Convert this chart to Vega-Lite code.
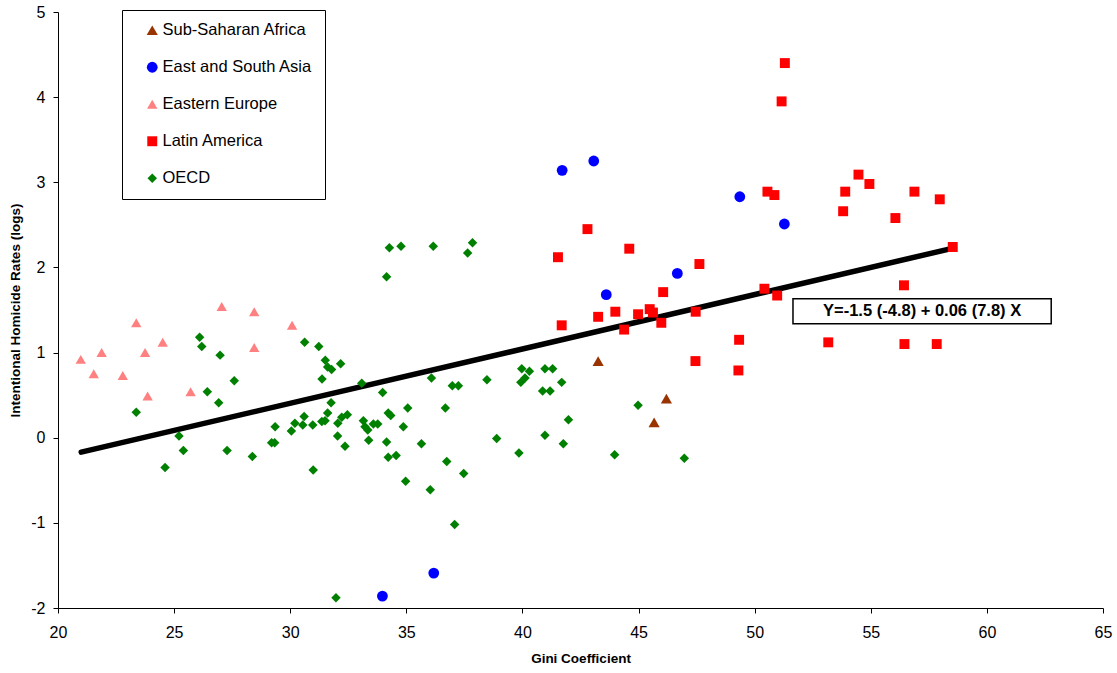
{
  "$schema": "https://vega.github.io/schema/vega-lite/v6.json",
  "width": 1045,
  "height": 596,
  "autosize": {"type": "none"},
  "padding": {"left": 58, "top": 12, "right": 14, "bottom": 65},
  "background": "white",
  "config": {
    "font": "Liberation Sans",
    "view": {"stroke": null},
    "axis": {
      "grid": false,
      "domainColor": "black",
      "tickColor": "black",
      "labelColor": "black",
      "titleColor": "black",
      "labelFont": "Liberation Sans",
      "titleFont": "Liberation Sans",
      "labelFontSize": 16,
      "titleFontSize": 13.5,
      "titleFontWeight": "bold",
      "tickSize": 5,
      "domainWidth": 1,
      "tickWidth": 1,
      "labelFlush": false
    }
  },
  "datasets": {
    "fit": [
      {"gini": 21.0, "homicide": -0.17},
      {"gini": 58.6, "homicide": 2.23}
    ],
    "box": [
      {"gini": 51.65, "gini2": 62.77, "homicide": 1.633, "homicide2": 1.339}
    ],
    "label": [
      {"gini": 57.21, "homicide": 1.486, "text": "Y=-1.5 (-4.8) + 0.06 (7.8) X"}
    ],
    "points": [
      {"gini": 43.26, "homicide": 0.90, "region": "Sub-Saharan Africa"},
      {"gini": 46.20, "homicide": 0.46, "region": "Sub-Saharan Africa"},
      {"gini": 45.67, "homicide": 0.18, "region": "Sub-Saharan Africa"},
      {"gini": 41.71, "homicide": 3.14, "region": "East and South Asia"},
      {"gini": 43.07, "homicide": 3.25, "region": "East and South Asia"},
      {"gini": 49.36, "homicide": 2.83, "region": "East and South Asia"},
      {"gini": 51.28, "homicide": 2.51, "region": "East and South Asia"},
      {"gini": 46.67, "homicide": 1.93, "region": "East and South Asia"},
      {"gini": 43.61, "homicide": 1.68, "region": "East and South Asia"},
      {"gini": 36.18, "homicide": -1.59, "region": "East and South Asia"},
      {"gini": 33.97, "homicide": -1.86, "region": "East and South Asia"},
      {"gini": 20.98, "homicide": 0.92, "region": "Eastern Europe"},
      {"gini": 21.54, "homicide": 0.75, "region": "Eastern Europe"},
      {"gini": 21.88, "homicide": 1.00, "region": "Eastern Europe"},
      {"gini": 22.79, "homicide": 0.73, "region": "Eastern Europe"},
      {"gini": 23.37, "homicide": 1.35, "region": "Eastern Europe"},
      {"gini": 23.75, "homicide": 1.00, "region": "Eastern Europe"},
      {"gini": 23.86, "homicide": 0.49, "region": "Eastern Europe"},
      {"gini": 24.51, "homicide": 1.12, "region": "Eastern Europe"},
      {"gini": 25.71, "homicide": 0.54, "region": "Eastern Europe"},
      {"gini": 27.05, "homicide": 1.54, "region": "Eastern Europe"},
      {"gini": 28.45, "homicide": 1.48, "region": "Eastern Europe"},
      {"gini": 28.45, "homicide": 1.06, "region": "Eastern Europe"},
      {"gini": 30.08, "homicide": 1.32, "region": "Eastern Europe"},
      {"gini": 51.30, "homicide": 4.40, "region": "Latin America"},
      {"gini": 51.16, "homicide": 3.95, "region": "Latin America"},
      {"gini": 50.55, "homicide": 2.89, "region": "Latin America"},
      {"gini": 50.85, "homicide": 2.85, "region": "Latin America"},
      {"gini": 53.90, "homicide": 2.89, "region": "Latin America"},
      {"gini": 54.47, "homicide": 3.09, "region": "Latin America"},
      {"gini": 54.94, "homicide": 2.98, "region": "Latin America"},
      {"gini": 53.81, "homicide": 2.66, "region": "Latin America"},
      {"gini": 56.88, "homicide": 2.89, "region": "Latin America"},
      {"gini": 57.97, "homicide": 2.80, "region": "Latin America"},
      {"gini": 56.06, "homicide": 2.58, "region": "Latin America"},
      {"gini": 58.53, "homicide": 2.24, "region": "Latin America"},
      {"gini": 56.43, "homicide": 1.79, "region": "Latin America"},
      {"gini": 50.42, "homicide": 1.75, "region": "Latin America"},
      {"gini": 50.97, "homicide": 1.67, "region": "Latin America"},
      {"gini": 49.33, "homicide": 1.15, "region": "Latin America"},
      {"gini": 53.17, "homicide": 1.12, "region": "Latin America"},
      {"gini": 56.45, "homicide": 1.10, "region": "Latin America"},
      {"gini": 57.84, "homicide": 1.10, "region": "Latin America"},
      {"gini": 49.30, "homicide": 0.79, "region": "Latin America"},
      {"gini": 42.80, "homicide": 2.45, "region": "Latin America"},
      {"gini": 41.53, "homicide": 2.12, "region": "Latin America"},
      {"gini": 44.60, "homicide": 2.22, "region": "Latin America"},
      {"gini": 47.62, "homicide": 2.04, "region": "Latin America"},
      {"gini": 46.06, "homicide": 1.71, "region": "Latin America"},
      {"gini": 41.69, "homicide": 1.32, "region": "Latin America"},
      {"gini": 43.26, "homicide": 1.42, "region": "Latin America"},
      {"gini": 44.00, "homicide": 1.48, "region": "Latin America"},
      {"gini": 44.98, "homicide": 1.45, "region": "Latin America"},
      {"gini": 45.48, "homicide": 1.51, "region": "Latin America"},
      {"gini": 45.62, "homicide": 1.47, "region": "Latin America"},
      {"gini": 45.98, "homicide": 1.35, "region": "Latin America"},
      {"gini": 44.38, "homicide": 1.27, "region": "Latin America"},
      {"gini": 47.46, "homicide": 1.48, "region": "Latin America"},
      {"gini": 47.45, "homicide": 0.90, "region": "Latin America"},
      {"gini": 26.10, "homicide": 1.18, "region": "OECD"},
      {"gini": 26.19, "homicide": 1.07, "region": "OECD"},
      {"gini": 26.98, "homicide": 0.97, "region": "OECD"},
      {"gini": 27.59, "homicide": 0.67, "region": "OECD"},
      {"gini": 26.43, "homicide": 0.54, "region": "OECD"},
      {"gini": 26.92, "homicide": 0.41, "region": "OECD"},
      {"gini": 23.37, "homicide": 0.30, "region": "OECD"},
      {"gini": 25.21, "homicide": 0.02, "region": "OECD"},
      {"gini": 25.40, "homicide": -0.15, "region": "OECD"},
      {"gini": 24.61, "homicide": -0.35, "region": "OECD"},
      {"gini": 27.28, "homicide": -0.15, "region": "OECD"},
      {"gini": 28.37, "homicide": -0.22, "region": "OECD"},
      {"gini": 29.35, "homicide": 0.13, "region": "OECD"},
      {"gini": 29.20, "homicide": -0.06, "region": "OECD"},
      {"gini": 29.33, "homicide": -0.06, "region": "OECD"},
      {"gini": 30.05, "homicide": 0.08, "region": "OECD"},
      {"gini": 30.20, "homicide": 0.17, "region": "OECD"},
      {"gini": 30.60, "homicide": 0.25, "region": "OECD"},
      {"gini": 30.54, "homicide": 0.15, "region": "OECD"},
      {"gini": 30.97, "homicide": 0.15, "region": "OECD"},
      {"gini": 30.99, "homicide": -0.38, "region": "OECD"},
      {"gini": 30.62, "homicide": 1.12, "region": "OECD"},
      {"gini": 31.23, "homicide": 1.07, "region": "OECD"},
      {"gini": 31.51, "homicide": 0.91, "region": "OECD"},
      {"gini": 31.61, "homicide": 0.83, "region": "OECD"},
      {"gini": 31.78, "homicide": 0.80, "region": "OECD"},
      {"gini": 32.17, "homicide": 0.87, "region": "OECD"},
      {"gini": 31.37, "homicide": 0.69, "region": "OECD"},
      {"gini": 31.76, "homicide": 0.41, "region": "OECD"},
      {"gini": 31.61, "homicide": 0.29, "region": "OECD"},
      {"gini": 31.36, "homicide": 0.19, "region": "OECD"},
      {"gini": 31.50, "homicide": 0.20, "region": "OECD"},
      {"gini": 32.05, "homicide": 0.17, "region": "OECD"},
      {"gini": 32.22, "homicide": 0.24, "region": "OECD"},
      {"gini": 32.46, "homicide": 0.27, "region": "OECD"},
      {"gini": 32.04, "homicide": 0.02, "region": "OECD"},
      {"gini": 32.36, "homicide": -0.10, "region": "OECD"},
      {"gini": 34.27, "homicide": 2.23, "region": "OECD"},
      {"gini": 34.77, "homicide": 2.25, "region": "OECD"},
      {"gini": 36.16, "homicide": 2.25, "region": "OECD"},
      {"gini": 37.85, "homicide": 2.29, "region": "OECD"},
      {"gini": 37.64, "homicide": 2.17, "region": "OECD"},
      {"gini": 34.15, "homicide": 1.89, "region": "OECD"},
      {"gini": 33.08, "homicide": 0.64, "region": "OECD"},
      {"gini": 33.98, "homicide": 0.53, "region": "OECD"},
      {"gini": 36.08, "homicide": 0.70, "region": "OECD"},
      {"gini": 36.98, "homicide": 0.61, "region": "OECD"},
      {"gini": 37.24, "homicide": 0.61, "region": "OECD"},
      {"gini": 38.47, "homicide": 0.68, "region": "OECD"},
      {"gini": 39.97, "homicide": 0.81, "region": "OECD"},
      {"gini": 40.30, "homicide": 0.78, "region": "OECD"},
      {"gini": 40.11, "homicide": 0.70, "region": "OECD"},
      {"gini": 39.93, "homicide": 0.65, "region": "OECD"},
      {"gini": 40.97, "homicide": 0.81, "region": "OECD"},
      {"gini": 41.30, "homicide": 0.81, "region": "OECD"},
      {"gini": 41.69, "homicide": 0.65, "region": "OECD"},
      {"gini": 40.87, "homicide": 0.55, "region": "OECD"},
      {"gini": 41.19, "homicide": 0.55, "region": "OECD"},
      {"gini": 33.15, "homicide": 0.20, "region": "OECD"},
      {"gini": 33.22, "homicide": 0.13, "region": "OECD"},
      {"gini": 33.34, "homicide": 0.09, "region": "OECD"},
      {"gini": 33.58, "homicide": 0.16, "region": "OECD"},
      {"gini": 33.77, "homicide": 0.16, "region": "OECD"},
      {"gini": 33.38, "homicide": -0.03, "region": "OECD"},
      {"gini": 34.15, "homicide": -0.05, "region": "OECD"},
      {"gini": 34.22, "homicide": 0.29, "region": "OECD"},
      {"gini": 34.33, "homicide": 0.26, "region": "OECD"},
      {"gini": 35.06, "homicide": 0.35, "region": "OECD"},
      {"gini": 34.87, "homicide": 0.13, "region": "OECD"},
      {"gini": 35.65, "homicide": -0.07, "region": "OECD"},
      {"gini": 36.68, "homicide": 0.35, "region": "OECD"},
      {"gini": 38.89, "homicide": -0.01, "region": "OECD"},
      {"gini": 40.97, "homicide": 0.03, "region": "OECD"},
      {"gini": 34.22, "homicide": -0.23, "region": "OECD"},
      {"gini": 34.56, "homicide": -0.21, "region": "OECD"},
      {"gini": 34.97, "homicide": -0.51, "region": "OECD"},
      {"gini": 36.03, "homicide": -0.61, "region": "OECD"},
      {"gini": 36.74, "homicide": -0.28, "region": "OECD"},
      {"gini": 37.47, "homicide": -0.42, "region": "OECD"},
      {"gini": 37.08, "homicide": -1.02, "region": "OECD"},
      {"gini": 39.85, "homicide": -0.18, "region": "OECD"},
      {"gini": 31.97, "homicide": -1.88, "region": "OECD"},
      {"gini": 41.98, "homicide": 0.21, "region": "OECD"},
      {"gini": 41.76, "homicide": -0.07, "region": "OECD"},
      {"gini": 44.98, "homicide": 0.38, "region": "OECD"},
      {"gini": 43.97, "homicide": -0.20, "region": "OECD"},
      {"gini": 46.97, "homicide": -0.24, "region": "OECD"}
    ]
  },
  "encoding": {
    "x": {
      "field": "gini",
      "type": "quantitative",
      "scale": {"domain": [20, 65], "nice": false, "zero": false},
      "axis": {
        "title": "Gini Coefficient",
        "values": [20, 25, 30, 35, 40, 45, 50, 55, 60, 65],
        "labelExpr": "'' + datum.value",
        "labelPadding": 11,
        "titlePadding": 11
      }
    },
    "y": {
      "field": "homicide",
      "type": "quantitative",
      "scale": {"domain": [-2, 5], "nice": false, "zero": false},
      "axis": {
        "title": "Intentional Homicide Rates (logs)",
        "values": [-2, -1, 0, 1, 2, 3, 4, 5],
        "labelExpr": "'' + datum.value",
        "labelPadding": 8,
        "titlePadding": 8
      }
    }
  },
  "layer": [
    {
      "data": {"name": "fit"},
      "mark": {"type": "line", "color": "black", "strokeWidth": 5.5, "strokeCap": "round"},
      "encoding": {}
    },
    {
      "data": {"name": "points"},
      "mark": {"type": "point", "filled": true, "opacity": 1},
      "encoding": {
        "color": {
          "field": "region",
          "type": "nominal",
          "scale": {
            "domain": ["Sub-Saharan Africa", "East and South Asia", "Eastern Europe", "Latin America", "OECD"],
            "range": ["#993300", "#0000FF", "#FF8080", "#FF0000", "#008000"]
          },
          "legend": {
            "title": null,
            "orient": "none",
            "legendX": 64,
            "legendY": -2,
            "strokeColor": "black",
            "fillColor": "white",
            "padding": 12,
            "symbolOffset": 10,
            "labelFontSize": 16.5,
            "labelColor": "black",
            "labelFont": "Liberation Sans",
            "symbolSize": 100,
            "rowPadding": 20,
            "labelOffset": 2
          }
        },
        "shape": {
          "field": "region",
          "type": "nominal",
          "scale": {
            "domain": ["Sub-Saharan Africa", "East and South Asia", "Eastern Europe", "Latin America", "OECD"],
            "range": ["triangle-up", "circle", "triangle-up", "square", "diamond"]
          },
          "legend": {
            "title": null,
            "orient": "none",
            "legendX": 64,
            "legendY": -2,
            "strokeColor": "black",
            "fillColor": "white",
            "padding": 12,
            "symbolOffset": 10,
            "labelFontSize": 16.5,
            "labelColor": "black",
            "labelFont": "Liberation Sans",
            "symbolSize": 100,
            "rowPadding": 20,
            "labelOffset": 2
          }
        },
        "size": {
          "field": "region",
          "type": "nominal",
          "scale": {
            "domain": ["Sub-Saharan Africa", "East and South Asia", "Eastern Europe", "Latin America", "OECD"],
            "range": [125, 90, 125, 90, 105]
          },
          "legend": null
        }
      }
    },
    {
      "data": {"name": "box"},
      "mark": {"type": "rect", "fill": "white", "stroke": "black", "strokeWidth": 1.5},
      "encoding": {
        "x2": {"field": "gini2"},
        "y2": {"field": "homicide2"}
      }
    },
    {
      "data": {"name": "label"},
      "mark": {"type": "text", "font": "Liberation Sans", "fontWeight": "bold", "fontSize": 16.5, "color": "black", "align": "center", "baseline": "middle"},
      "encoding": {
        "text": {"field": "text", "type": "nominal"}
      }
    }
  ]
}
